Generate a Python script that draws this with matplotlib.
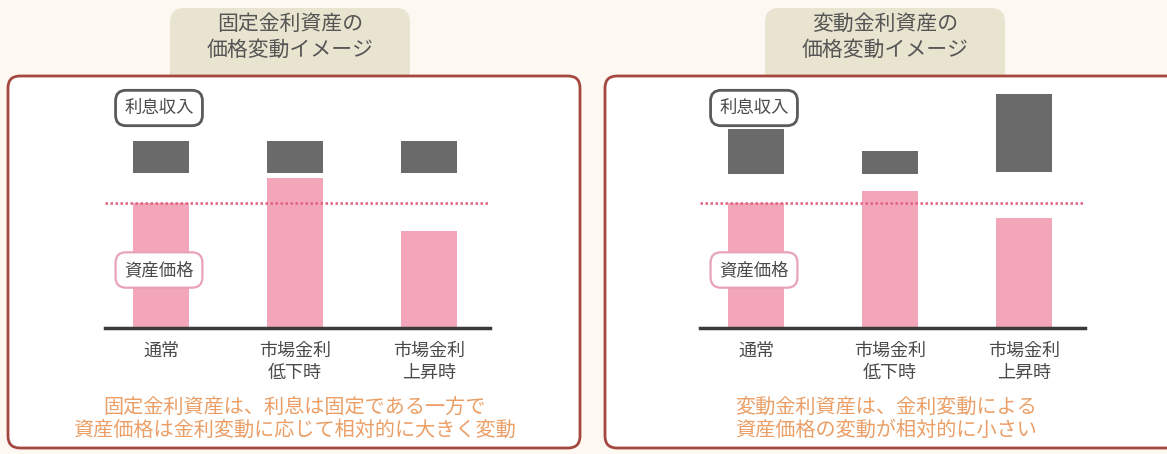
import matplotlib.pyplot as plt
from matplotlib.patches import FancyBboxPatch

plt.rcParams['font.family'] = ['Noto Sans CJK JP', 'DejaVu Sans']

# data: 通常の資産価格 = 100 とした相対値
categories = ['通常', '市場金利\n低下時', '市場金利\n上昇時']
fixed_price = [100, 120, 78]
fixed_income_base = [124, 124, 124]
fixed_income = [26, 26, 26]
float_price = [100, 110, 88]
float_income_base = [123, 123, 125]
float_income = [36, 19, 62]
ref_level = 100

titles = ['固定金利資産の\n価格変動イメージ', '変動金利資産の\n価格変動イメージ']
captions = ['固定金利資産は、利息は固定である一方で\n資産価格は金利変動に応じて相対的に大きく変動',
            '変動金利資産は、金利変動による\n資産価格の変動が相対的に小さい']

W, H = 1167, 454
fig = plt.figure(figsize=(W / 100, H / 100), dpi=100)
fig.patch.set_facecolor('#fdf9f2')

# background layer in pixel coordinates
bg = fig.add_axes([0, 0, 1, 1])
bg.set_xlim(0, W)
bg.set_ylim(H, 0)
bg.axis('off')

PINK = '#f3a6ba'
GRAY = '#6a6a6a'
TEXT = '#4a4a4a'

panels = [
    dict(frame=(8, 580), title_x=290, ax_x=105, cap_x=294,
         price=fixed_price, base=fixed_income_base, inc=fixed_income),
    dict(frame=(605, 1185), title_x=885, ax_x=700, cap_x=886,
         price=float_price, base=float_income_base, inc=float_income),
]

for i, p in enumerate(panels):
    tx = p['title_x']
    bg.add_patch(FancyBboxPatch((tx - 120, 8), 240, 90,
                                boxstyle='round,pad=0,rounding_size=14',
                                fc='#e8e4cf', ec='none', zorder=1))
    bg.text(tx, 37, titles[i], ha='center', va='center', fontsize=15,
            color='#555555', linespacing=1.25, zorder=2)
    x0, x1 = p['frame']
    bg.add_patch(FancyBboxPatch((x0, 76), x1 - x0, 372,
                                boxstyle='round,pad=0,rounding_size=12',
                                fc='white', ec='#a4473f', lw=2, zorder=3))
    bg.text(p['cap_x'], 419, captions[i], ha='center', va='center',
            fontsize=14.5, color='#eb9f66', linespacing=1.1, zorder=4)

    # chart axes
    ax = fig.add_axes([p['ax_x'] / W, 1 - 328 / H, 385 / W, 240 / H])
    ax.set_facecolor('none')
    x = range(len(categories))
    ax.bar(x, p['price'], width=0.42, color=PINK, zorder=2)
    ax.bar(x, p['inc'], bottom=p['base'], width=0.42, color=GRAY, zorder=2)
    ax.axhline(ref_level, color='#e0607e', lw=1.8, ls=(0, (1, 1)), zorder=3)
    ax.set_xlim(-0.42, 2.455)
    ax.set_ylim(0, 192)
    for s in ['top', 'left', 'right']:
        ax.spines[s].set_visible(False)
    ax.spines['bottom'].set_color('#3a3a3a')
    ax.spines['bottom'].set_linewidth(2.5)
    ax.set_yticks([])
    ax.set_xticks(list(x))
    ax.set_xticklabels(categories, fontsize=13, color=TEXT, linespacing=1.32)
    ax.tick_params(axis='x', length=0, pad=10)

    lx = p['ax_x'] + 54
    ax.text(lx, 108, '利息収入', transform=bg.transData, ha='center', va='center',
            fontsize=12.5, color=TEXT, zorder=5,
            bbox=dict(boxstyle='round,pad=0.5,rounding_size=0.6', fc='white',
                      ec='#5a5a5a', lw=2))
    ax.text(lx, 270, '資産価格', transform=bg.transData, ha='center', va='center',
            fontsize=12.5, color=TEXT, zorder=5,
            bbox=dict(boxstyle='round,pad=0.5,rounding_size=0.6', fc='white',
                      ec='#e8a3b6', lw=1.6))

fig.savefig('out.png', dpi=100, facecolor=fig.get_facecolor())
